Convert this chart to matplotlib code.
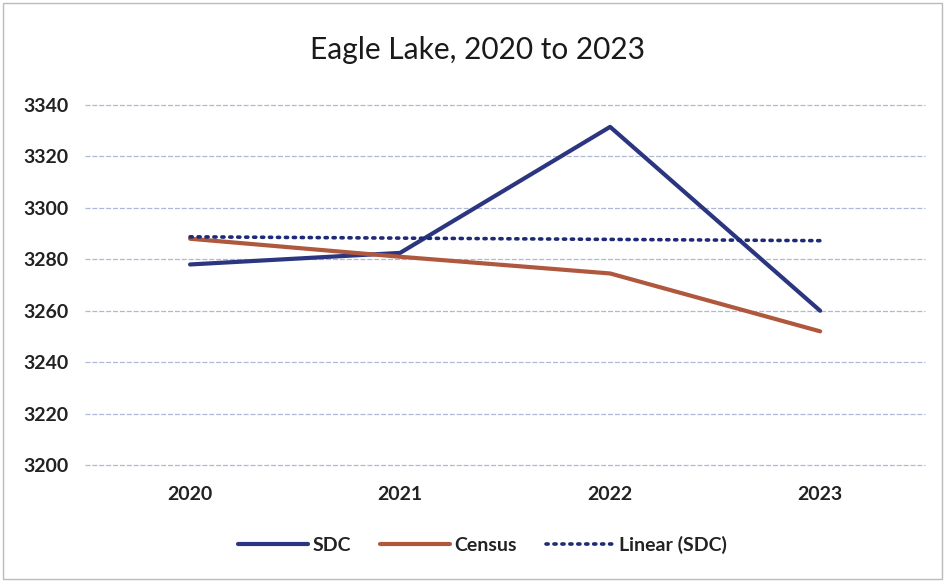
import numpy as np
import matplotlib
matplotlib.use("Agg")
import matplotlib.pyplot as plt
from matplotlib.patches import Rectangle

years = ["2020", "2021", "2022", "2023"]
sdc = [3278, 3282.5, 3331.5, 3260]
census = [3288, 3281, 3274.5, 3252]
y_ticks = [3200, 3220, 3240, 3260, 3280, 3300, 3320, 3340]

plt.rcParams['font.family'] = ['Lato', 'DejaVu Sans']

fig = plt.figure(figsize=(9.45, 5.85), dpi=100)
ax = fig.add_axes([0.09, 0.205, 0.889, 0.6155])

x = np.arange(len(years))
coef = np.polyfit(x, sdc, 1)
linear = np.polyval(coef, x)

ax.plot(x, sdc, color="#2B3580", lw=3.0, label="SDC", solid_capstyle="round", zorder=3)
ax.plot(x, census, color="#B0583D", lw=3.0, label="Census", solid_capstyle="round", zorder=3)
ax.plot(x, linear, color="#1E2A78", lw=2.6, ls=(0, (0.6, 1.6)), dash_capstyle="round",
        label="Linear (SDC)", zorder=4)

ax.set_xlim(-0.5, 3.5)
ax.set_ylim(3200, 3340)
ax.set_yticks(y_ticks)
ax.set_xticks(x)
ax.set_xticklabels(years)
ax.grid(axis="y", color="#AEB9D6", lw=0.9, ls=(0, (4, 1.5)))
for gl in ax.get_ygridlines():
    gl.set_clip_on(False)
ax.set_axisbelow(True)
for s in ax.spines.values():
    s.set_visible(False)
ax.tick_params(length=0)
ax.tick_params(axis="y", pad=12, labelsize=14, labelcolor="#222222")
ax.tick_params(axis="x", pad=15, labelsize=14, labelcolor="#222222")
for lbl in ax.get_xticklabels() + ax.get_yticklabels():
    lbl.set_fontweight("bold")

fig.text(0.505, 0.915, "Eagle Lake, 2020 to 2023", ha="center", va="center",
         fontsize=21.5, color="#1A1A1A")

leg = fig.legend(loc="center", bbox_to_anchor=(0.511, 0.068), ncol=3, frameon=False,
                 prop={"size": 14, "weight": "bold"}, handlelength=3.6,
                 columnspacing=1.5, handletextpad=0.2)
for t in leg.get_texts():
    t.set_color("#222222")

fig.patches.append(Rectangle((0.003, 0.01), 0.994, 0.985, transform=fig.transFigure,
                             fill=False, edgecolor="#BBBBBB", lw=1.0))

fig.savefig("out.png", dpi=100)
